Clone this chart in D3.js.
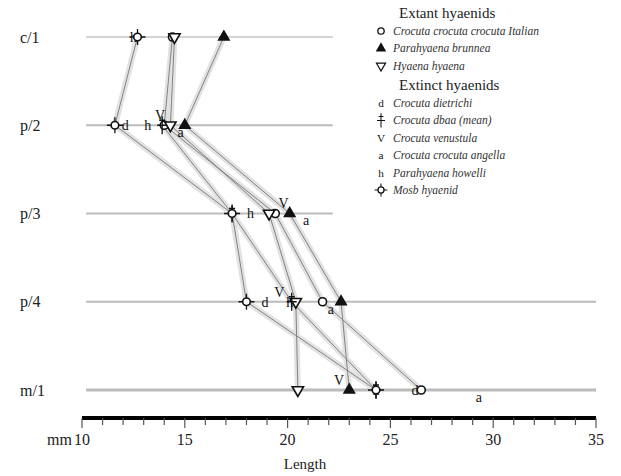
<!DOCTYPE html>
<html>
<head>
<meta charset="utf-8">
<script src="https://cdn.jsdelivr.net/npm/d3@7"></script>
<style>
  body { margin: 0; background: #fff; }
  svg { display: block; font-family: "Liberation Serif", "DejaVu Serif", serif; }
</style>
</head>
<body>
<svg id="vis" width="621" height="476"></svg>
<script>
// tooth rows, top to bottom
var teeth = ["c/1", "p/2", "p/3", "p/4", "m/1"];

// lengths in mm per tooth (null = not recorded)
var italia    = [14.4, 14.0, 19.4, 21.7, 26.5];
var brunnea   = [16.9, 15.0, 20.1, 22.6, 23.0];
var hyaena    = [14.5, 14.3, 19.1, 20.4, 20.5];
var dietrichi = [null, 12.1, null, 18.9, 26.2];
var dbaa      = [null, 13.9, 17.3, 20.2, 24.3];
var venustula = [null, 13.8, 19.8, 19.6, 22.5];
var angella   = [null, 14.8, 20.9, 22.1, 29.3];
var howelli   = [12.5, 13.2, 18.2, 20.1, 24.3];
var mosb      = [12.7, 11.6, 17.3, 18.0, 24.3];

var xTicks = [10, 15, 20, 25, 30, 35];

var extant = [
  {name: "Crocuta crocuta crocuta Italian", sym: "circle", values: italia, link: true},
  {name: "Parahyaena brunnea", sym: "tri", values: brunnea, link: true},
  {name: "Hyaena hyaena", sym: "dtri", values: hyaena, link: true}
];
var extinct = [
  {name: "Crocuta dietrichi", sym: "d", values: dietrichi, link: false},
  {name: "Crocuta dbaa (mean)", sym: "plus", values: dbaa, link: true},
  {name: "Crocuta venustula", sym: "V", values: venustula, link: false, shift: -10},
  {name: "Crocuta crocuta angella", sym: "a", values: angella, link: false, shift: 7},
  {name: "Parahyaena howelli", sym: "h", values: howelli, link: false},
  {name: "Mosb hyaenid", sym: "star", values: mosb, link: true}
];
var taxa = extant.concat(extinct);

var svg = d3.select("#vis");

var x = d3.scaleLinear().domain([10, 35]).range([82, 596]);
var y = d3.scalePoint().domain(teeth).range([37, 390]);
var axisY = 418;

// row guide lines
svg.append("g").selectAll("line")
  .data(teeth)
  .enter().append("line")
    .attr("x1", x(10.2))
    .attr("x2", function(d, i) { return i < 3 ? x(22.2) : x(35); })
    .attr("y1", function(d) { return y(d); })
    .attr("y2", function(d) { return y(d); })
    .attr("stroke", function(d, i) { return i == 0 ? "#d4d4d4" : "#bbb"; })
    .attr("stroke-width", function(d, i) { return i == 4 ? 3 : 2; });

// row labels
svg.append("g").selectAll("text")
  .data(teeth)
  .enter().append("text")
    .attr("x", 20)
    .attr("y", function(d) { return y(d); })
    .attr("dy", "0.35em")
    .attr("font-size", 16)
    .attr("fill", "#222")
    .text(function(d) { return d; });

// connecting lines for each taxon
var line = d3.line()
  .x(function(d) { return x(d.v); })
  .y(function(d) { return y(d.t); });

function pts(t) {
  return t.values.map(function(v, i) { return {v: v, t: teeth[i]}; })
    .filter(function(d) { return d.v != null; });
}

var linked = taxa.filter(function(t) { return t.link; });
var links = svg.append("g");
links.selectAll(".halo")
  .data(linked)
  .enter().append("path")
    .attr("d", function(d) { return line(pts(d)); })
    .attr("fill", "none")
    .attr("stroke", "#e2e2e2")
    .attr("stroke-width", 6);
links.selectAll(".thin")
  .data(linked)
  .enter().append("path")
    .attr("d", function(d) { return line(pts(d)); })
    .attr("fill", "none")
    .attr("stroke", "#777")
    .attr("stroke-width", 0.9);

// draw one symbol into a group centred at 0,0
function drawSym(g, sym) {
  if (sym == "circle") {
    g.append("circle").attr("r", 4).attr("fill", "#fff")
      .attr("stroke", "#111").attr("stroke-width", 1.6);
  } else if (sym == "tri") {
    g.append("path").attr("d", d3.symbol().type(d3.symbolTriangle).size(75)())
      .attr("fill", "#111");
  } else if (sym == "dtri") {
    g.append("path").attr("d", d3.symbol().type(d3.symbolTriangle).size(55)())
      .attr("transform", "rotate(180)")
      .attr("fill", "#fff").attr("stroke", "#111").attr("stroke-width", 1.6);
  } else if (sym == "plus") {
    g.append("path").attr("d", "M-5,0H5M0,-9V9M-3,-5H3")
      .attr("stroke", "#111").attr("stroke-width", 1.3);
  } else if (sym == "star") {
    g.append("path").attr("d", "M-8,0H8M0,-8V8")
      .attr("stroke", "#111").attr("stroke-width", 1.3);
    g.append("circle").attr("r", 3.8).attr("fill", "#fff")
      .attr("stroke", "#111").attr("stroke-width", 1.6);
  } else {
    g.append("text").attr("text-anchor", "middle").attr("dy", "0.35em")
      .attr("font-size", 14).attr("fill", "#111").text(sym);
  }
}

// markers
taxa.forEach(function(t) {
  pts(t).forEach(function(p) {
    var g = svg.append("g")
      .attr("transform", "translate(" + x(p.v) + "," + (y(p.t) + (t.shift || 0)) + ")");
    drawSym(g, t.sym);
  });
});

// axis
var ax = svg.append("g").attr("transform", "translate(0," + axisY + ")");
ax.append("line")
  .attr("x1", x(10)).attr("x2", x(35))
  .attr("stroke", "#000").attr("stroke-width", 4);
ax.selectAll(".tick")
  .data(d3.range(10, 36))
  .enter().append("line")
    .attr("x1", function(d) { return x(d); })
    .attr("x2", function(d) { return x(d); })
    .attr("y1", 0)
    .attr("y2", function(d) { return d % 5 == 0 ? 10 : 7; })
    .attr("stroke", "#555")
    .attr("stroke-width", 1.2);
ax.selectAll(".lab")
  .data(xTicks)
  .enter().append("text")
    .attr("x", function(d) { return x(d); })
    .attr("y", 27)
    .attr("text-anchor", "middle")
    .attr("font-size", 16)
    .attr("fill", "#222")
    .text(function(d) { return d; });
ax.append("text")
  .attr("x", x(10) - 10).attr("y", 27)
  .attr("text-anchor", "end")
  .attr("font-size", 16).attr("fill", "#222")
  .text("mm");
svg.append("text")
  .attr("x", 305).attr("y", 469)
  .attr("text-anchor", "middle")
  .attr("font-size", 15).attr("fill", "#222")
  .text("Length");

// legend
var leg = svg.append("g");
function legendBlock(title, items, top) {
  leg.append("text")
    .attr("x", 399).attr("y", top)
    .attr("dy", "0.35em")
    .attr("font-size", 15).attr("fill", "#222")
    .text(title);
  items.forEach(function(t, i) {
    var cy = top + 18 + i * 17.4;
    var g = leg.append("g").attr("transform", "translate(381," + cy + ") scale(0.8)");
    drawSym(g, t.sym);
    leg.append("text")
      .attr("x", 393).attr("y", cy)
      .attr("dy", "0.35em")
      .attr("font-size", 11.5)
      .attr("font-style", "italic")
      .attr("fill", "#333")
      .text(t.name);
  });
}
legendBlock("Extant hyaenids", extant, 13);
legendBlock("Extinct hyaenids", extinct, 85);
</script>
</body>
</html>
